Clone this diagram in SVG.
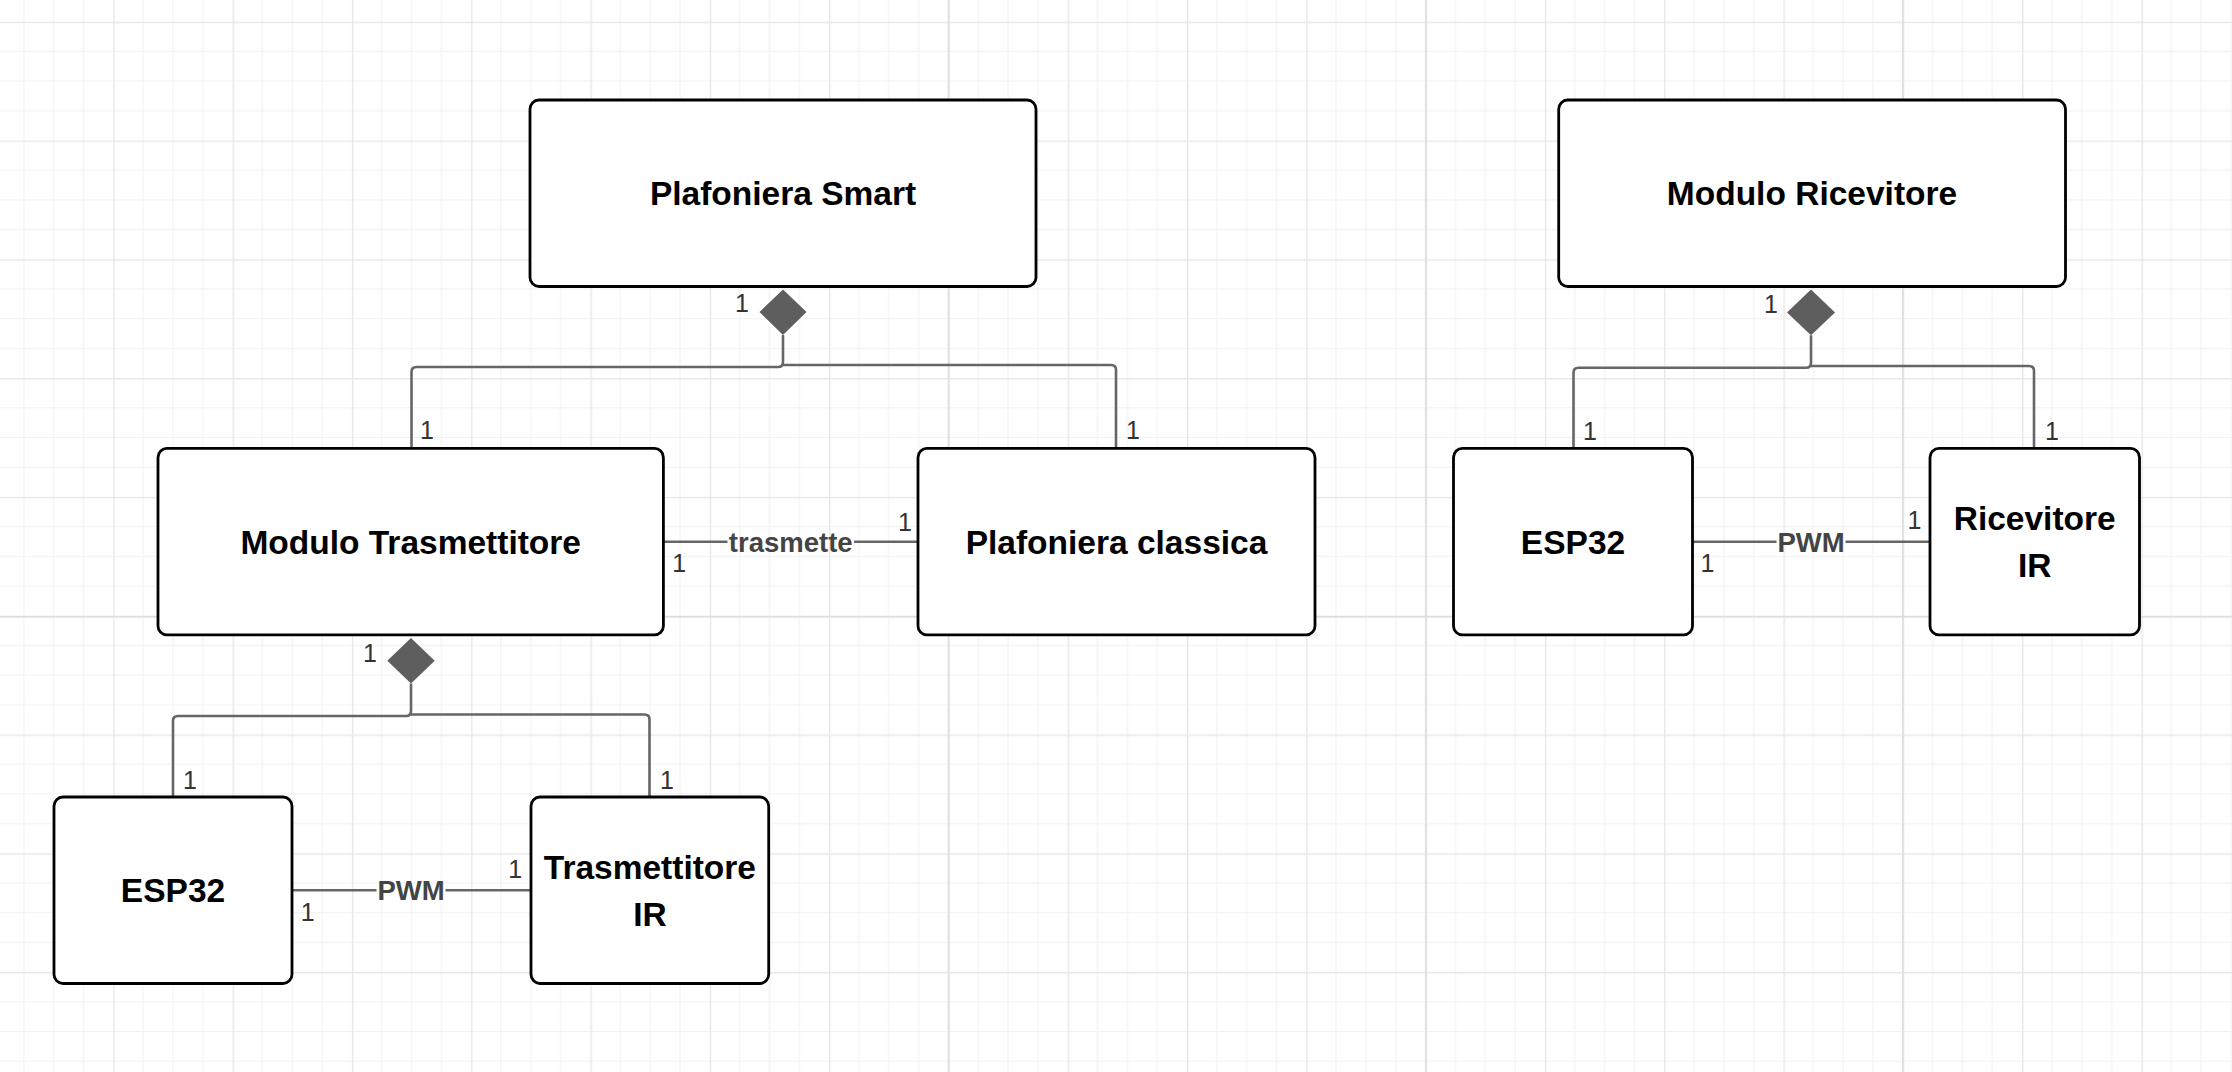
<svg xmlns="http://www.w3.org/2000/svg" width="2232" height="1072" viewBox="0 0 2232 1072">
<defs>
<pattern id="grid" patternUnits="userSpaceOnUse" x="113.3" y="21.7" width="119.3" height="118.8">
<rect width="119.3" height="118.8" fill="#ffffff"/>
<rect x="29.3" y="0" width="1" height="118.8" fill="#f1f1f1"/>
<rect x="59.2" y="0" width="1" height="118.8" fill="#f1f1f1"/>
<rect x="89" y="0" width="1" height="118.8" fill="#f1f1f1"/>
<rect x="0" y="29.2" width="119.3" height="1" fill="#f1f1f1"/>
<rect x="0" y="58.9" width="119.3" height="1" fill="#f1f1f1"/>
<rect x="0" y="88.6" width="119.3" height="1" fill="#f1f1f1"/>
<rect x="0" y="0" width="1.3" height="118.8" fill="#e6e6e6"/>
<rect x="0" y="0" width="119.3" height="1.3" fill="#e6e6e6"/>
</pattern>
</defs>
<style>
.box{fill:#ffffff;stroke:#000000;stroke-width:2.8}
.title{font-family:"Liberation Sans",Arial,sans-serif;font-weight:bold;font-size:33.5px;fill:#000000;text-anchor:middle}
.conn{fill:none;stroke:#666666;stroke-width:2.6}
.dia{fill:#5e5e5e;stroke:none}
.mult{font-family:"Liberation Sans",Arial,sans-serif;font-size:25px;fill:#333333;text-anchor:middle}
.lbl{font-family:"Liberation Sans",Arial,sans-serif;font-weight:bold;font-size:27.5px;fill:#444444;text-anchor:middle}
.major{fill:#dedede}
</style>
<rect x="0" y="0" width="2232" height="1072" fill="url(#grid)"/>
<g id="grid-major">
<rect class="major" x="947.7" y="0" width="1.6" height="1072"/>
<rect class="major" x="1424.9" y="0" width="1.6" height="1072"/>
<rect class="major" x="1902.1" y="0" width="1.6" height="1072"/>
<rect class="major" x="0" y="616" width="2232" height="1.6"/>
</g>

<g id="connectors">
<!-- Plafoniera Smart composition -->
<polygon class="dia" points="783,289.5 806.5,312 783,335 759.5,312"/>
<path class="conn" d="M783,335 V362 Q783,367 778,367 H416.5 Q411.5,367 411.5,372 V448"/>
<path class="conn" d="M783,365 H1111 Q1116,365 1116,370 V448"/>
<text class="mult" x="742" y="311.9">1</text>
<text class="mult" x="427" y="438.9">1</text>
<text class="mult" x="1133" y="438.9">1</text>
<!-- trasmette -->
<path class="conn" d="M663,541.7 H727.5 M854,541.7 H918"/>
<text class="lbl" x="790.7" y="551.5">trasmette</text>
<text class="mult" x="679.3" y="572.2">1</text>
<text class="mult" x="905" y="530.6">1</text>
<!-- Modulo Trasmettitore composition -->
<polygon class="dia" points="411,638 434.7,660.8 411,683.5 387.3,660.8"/>
<path class="conn" d="M411,683.5 V711 Q411,716 406,716 H178 Q173,716 173,721 V797"/>
<path class="conn" d="M411,714.5 H644.5 Q649.5,714.5 649.5,719.5 V797"/>
<text class="mult" x="370" y="661.9">1</text>
<text class="mult" x="190" y="788.9">1</text>
<text class="mult" x="667" y="788.9">1</text>
<!-- left PWM -->
<path class="conn" d="M292,890.3 H376.5 M445.5,890.3 H531"/>
<text class="lbl" x="411" y="900.1">PWM</text>
<text class="mult" x="307.6" y="921.1">1</text>
<text class="mult" x="515.2" y="877.9">1</text>
<!-- Modulo Ricevitore composition -->
<polygon class="dia" points="1811,289.5 1835,312.5 1811,335.3 1787,312.5"/>
<path class="conn" d="M1811,335.3 V362.8 Q1811,367.8 1806,367.8 H1578.5 Q1573.5,367.8 1573.5,372.8 V448"/>
<path class="conn" d="M1811,366 H2029 Q2034,366 2034,371 V448"/>
<text class="mult" x="1771" y="312.7">1</text>
<text class="mult" x="1590" y="440.4">1</text>
<text class="mult" x="2052" y="440.4">1</text>
<!-- right PWM -->
<path class="conn" d="M1692.5,541.7 H1776.5 M1845.5,541.7 H1930"/>
<text class="lbl" x="1811" y="551.5">PWM</text>
<text class="mult" x="1707.5" y="571.9">1</text>
<text class="mult" x="1914.5" y="529.3">1</text>
</g>

<g id="plafoniera-smart">
<rect class="box" x="530" y="100" width="506" height="186.5" rx="9"/>
<text class="title" x="783" y="205">Plafoniera Smart</text>
</g>
<g id="modulo-trasmettitore">
<rect class="box" x="158" y="448.4" width="505.4" height="186.5" rx="9"/>
<text class="title" x="410.7" y="553.5">Modulo Trasmettitore</text>
</g>
<g id="plafoniera-classica">
<rect class="box" x="918" y="448.4" width="397" height="186.5" rx="9"/>
<text class="title" x="1116.5" y="553.5">Plafoniera classica</text>
</g>
<g id="esp32-tx">
<rect class="box" x="54" y="797" width="238" height="186.5" rx="9"/>
<text class="title" x="173" y="902">ESP32</text>
</g>
<g id="trasmettitore-ir">
<rect class="box" x="531" y="797" width="237.7" height="186.5" rx="9"/>
<text class="title" x="649.9" y="878.5">Trasmettitore</text>
<text class="title" x="649.9" y="926">IR</text>
</g>
<g id="modulo-ricevitore">
<rect class="box" x="1558.7" y="100" width="506.8" height="186.5" rx="9"/>
<text class="title" x="1812" y="205">Modulo Ricevitore</text>
</g>
<g id="esp32-rx">
<rect class="box" x="1453.5" y="448.4" width="239" height="186.5" rx="9"/>
<text class="title" x="1573" y="553.5">ESP32</text>
</g>
<g id="ricevitore-ir">
<rect class="box" x="1930" y="448.4" width="209.5" height="186.5" rx="9"/>
<text class="title" x="2034.7" y="529.5">Ricevitore</text>
<text class="title" x="2034.7" y="577">IR</text>
</g>
</svg>
